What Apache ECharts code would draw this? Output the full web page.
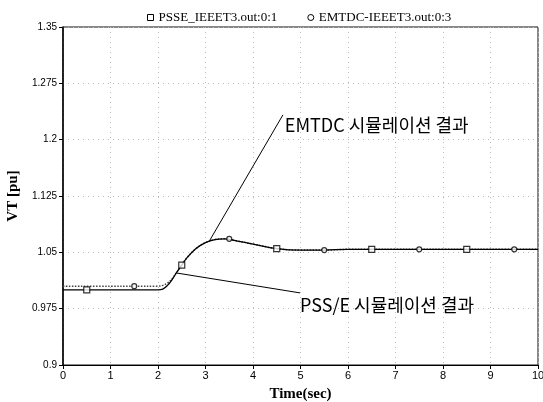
<!DOCTYPE html>
<html>
<head>
<meta charset="utf-8">
<script src="https://cdn.jsdelivr.net/npm/echarts@6/dist/echarts.min.js"></script>
<style>
html, body { margin: 0; padding: 0; background: #fff; }
#chart { width: 543px; height: 402px; }
</style>
</head>
<body>
<div id="chart"></div>
<script>
// 시간 (sec)
var psseTime = [0, 1, 2.0, 2.1, 2.2, 2.3, 2.4, 2.5, 2.6, 2.8, 3.0, 3.2, 3.4, 3.6, 4.0, 4.5, 5.0, 5.5, 6, 7, 8, 9, 10];
var psseVals = [1.000, 1.000, 1.000, 1.001, 1.006, 1.014, 1.024, 1.033, 1.042, 1.055, 1.063, 1.067, 1.068, 1.066, 1.061, 1.055, 1.053, 1.053, 1.054, 1.054, 1.054, 1.054, 1.054];

var emtdcTime = [0, 1, 2.0, 2.1, 2.2, 2.3, 2.4, 2.5, 2.6, 2.8, 3.0, 3.2, 3.4, 3.6, 4.0, 4.5, 5.0, 5.5, 6, 7, 8, 9, 10];
var emtdcVals = [1.005, 1.005, 1.005, 1.006, 1.009, 1.015, 1.024, 1.033, 1.042, 1.055, 1.063, 1.067, 1.068, 1.066, 1.061, 1.055, 1.053, 1.053, 1.054, 1.054, 1.054, 1.054, 1.054];

// 마커 위치
var psseMarkT = [0.5, 2.5, 4.5, 6.5, 8.5];
var psseMarkV = [1.000, 1.033, 1.055, 1.054, 1.054];
var emtdcMarkT = [1.5, 3.5, 5.5, 7.5, 9.5];
var emtdcMarkV = [1.005, 1.068, 1.053, 1.054, 1.054];

// 주석 (leader line: from -> to, text anchor)
var emtdcNote = { text: 'EMTDC 시뮬레이션 결과', from: [4.63, 1.233], to: [3.09, 1.066], at: [4.67, 1.2195] };
var psseNote = { text: 'PSS/E 시뮬레이션 결과', from: [2.4, 1.0224], to: [4.99, 0.996], at: [4.99, 0.980] };

var psseName = 'PSSE_IEEET3.out:0:1';
var emtdcName = 'EMTDC-IEEET3.out:0:3';

function zip(a, b) {
    var out = [];
    for (var i = 0; i < a.length; i++) out.push([a[i], b[i]]);
    return out;
}

var myChart = echarts.init(document.getElementById('chart'));

var serifFont = '"Liberation Serif", "DejaVu Serif", serif';
var korFont = '"Noto Sans CJK KR", "Noto Sans", sans-serif';

function noteMarks(note) {
    return {
        markLine: {
            silent: true,
            symbol: 'none',
            animation: false,
            lineStyle: { color: '#000', width: 1, type: 'solid' },
            label: { show: false },
            data: [[{ coord: note.from }, { coord: note.to }]]
        },
        markPoint: {
            silent: true,
            symbol: 'circle',
            symbolSize: 0,
            animation: false,
            label: {
                show: true,
                position: 'right',
                distance: 0,
                formatter: note.text,
                color: '#000',
                fontSize: 18,
                fontFamily: korFont
            },
            data: [{ coord: note.at }]
        }
    };
}

var option = {
    backgroundColor: '#fff',
    animation: false,
    legend: {
        top: 6,
        left: 142,
        itemGap: 30,
        itemWidth: 6,
        itemHeight: 6,
        textStyle: { fontFamily: serifFont, fontSize: 13, color: '#000' },
        itemStyle: { color: '#fff', borderColor: '#000', borderWidth: 1 },
        data: [
            { name: psseName, icon: 'rect' },
            { name: emtdcName, icon: 'circle' }
        ]
    },
    grid: {
        left: 63,
        right: 5,
        top: 27,
        bottom: 37,
        outerBoundsMode: 'none',
        show: true,
        borderColor: '#111',
        borderWidth: 1
    },
    xAxis: {
        type: 'value',
        min: 0,
        max: 10,
        interval: 1,
        name: 'Time(sec)',
        nameLocation: 'middle',
        nameGap: 22,
        nameTextStyle: { fontFamily: serifFont, fontSize: 15, fontWeight: 'bold', color: '#000' },
        axisLine: { lineStyle: { color: '#000', width: 1 } },
        axisTick: { length: 4, lineStyle: { color: '#000' } },
        axisLabel: { fontSize: 11, color: '#000', margin: 5, fontFamily: '"Liberation Sans", sans-serif' },
        splitLine: { show: true, lineStyle: { color: '#bbb', type: [1, 4], width: 1 } }
    },
    yAxis: {
        type: 'value',
        min: 0.9,
        max: 1.35,
        interval: 0.075,
        name: 'VT [pu]',
        nameLocation: 'middle',
        nameGap: 38,
        nameRotate: 90,
        nameTextStyle: { fontFamily: serifFont, fontSize: 15, fontWeight: 'bold', color: '#000' },
        axisLine: { show: true, lineStyle: { color: '#000', width: 1.5 } },
        axisTick: { show: true, length: 4, lineStyle: { color: '#000' } },
        axisLabel: {
            fontSize: 10,
            color: '#000',
            margin: 6,
            fontFamily: '"Liberation Sans", sans-serif',
            formatter: function(v) { return String(+v.toFixed(3)); }
        },
        splitLine: { show: true, lineStyle: { color: '#bbb', type: [1, 4], width: 1 } }
    },
    series: [
        Object.assign({
            name: emtdcName,
            type: 'line',
            smooth: 0.4,
            showSymbol: false,
            z: 3,
            lineStyle: { color: '#444', width: 1.5, type: 'dotted' },
            itemStyle: { color: '#444' },
            data: zip(emtdcTime, emtdcVals)
        }, noteMarks(emtdcNote)),
        Object.assign({
            name: psseName,
            type: 'line',
            smooth: 0.4,
            showSymbol: false,
            z: 4,
            lineStyle: { color: '#000', width: 1.3 },
            itemStyle: { color: '#000' },
            data: zip(psseTime, psseVals)
        }, noteMarks(psseNote)),
        {
            name: psseName,
            type: 'scatter',
            symbol: 'rect',
            symbolSize: 6,
            z: 5,
            itemStyle: { color: '#fff', borderColor: '#000', borderWidth: 1.2 },
            data: zip(psseMarkT, psseMarkV)
        },
        {
            name: emtdcName,
            type: 'scatter',
            symbol: 'circle',
            symbolSize: 5,
            z: 5,
            itemStyle: { color: '#fff', borderColor: '#000', borderWidth: 1.2 },
            data: zip(emtdcMarkT, emtdcMarkV)
        }
    ]
};

myChart.setOption(option);
</script>
</body>
</html>
